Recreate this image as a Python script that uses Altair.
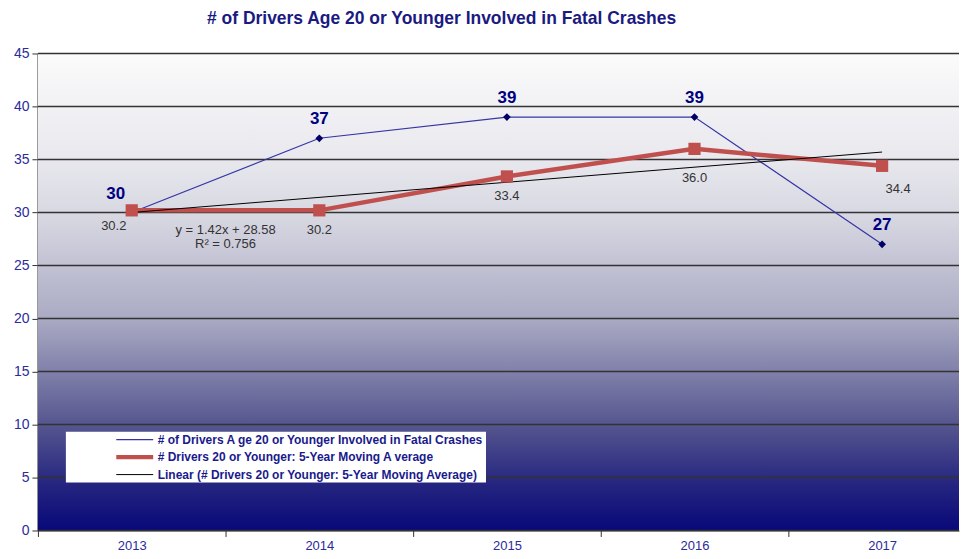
import altair as alt
import pandas as pd

# ---- data ----
years = [2013, 2014, 2015, 2016, 2017]
drivers = [30, 37, 39, 39, 27]
moving_avg = [30.2, 30.2, 33.4, 36.0, 34.4]
trend_years = [2013, 2017]
trend_vals = [30.0, 35.7]
y_ticks = [0, 5, 10, 15, 20, 25, 30, 35, 40, 45]
x_bounds = [2012.5, 2013.5, 2014.5, 2015.5, 2016.5]

s1 = "# of Drivers A ge 20 or Younger Involved in Fatal Crashes"
s2 = "# Drivers 20 or Younger: 5-Year Moving A verage"
s3 = "Linear (# Drivers 20 or Younger: 5-Year Moving Average)"
series = [s1, s2, s3]
colors = ["#3535a5", "#c0504d", "#000000"]
widths = [1.2, 4.5, 1.0]

title = "# of Drivers Age 20 or Younger Involved in Fatal Crashes"
equation = ["y = 1.42x + 28.58", "R² = 0.756"]

X_MIN, X_MAX = 2012.5, 2017.41
Y_MIN, Y_MAX = 0, 45
W, H = 923, 478
FONT = "Liberation Sans"

df_d = pd.DataFrame({"year": years, "value": drivers, "series": s1})
df_m = pd.DataFrame({"year": years, "value": moving_avg, "series": s2})
df_t = pd.DataFrame({"year": trend_years, "value": trend_vals, "series": s3})
df_lines = pd.concat([df_d, df_m, df_t], ignore_index=True)
df_m["label"] = [f"{v:.1f}" for v in moving_avg]
df_d["label"] = [str(v) for v in drivers]

xs = alt.Scale(domain=[X_MIN, X_MAX], nice=False, zero=False)
ys = alt.Scale(domain=[Y_MIN, Y_MAX], nice=False)

xax = alt.Axis(values=x_bounds, labelExpr="format(datum.value + 0.5, 'd')",
               labelOffset=94, labelFlush=False, labelOverlap=False,
               tickSize=6, tickColor="#333333", domainColor="#333333",
               labelColor="#2b2b9b", labelFontSize=13, labelPadding=3,
               labelFont=FONT, grid=False, title=None)
yax = alt.Axis(values=y_ticks, tickSize=6, tickColor="#333333",
               domainColor="#444444", domainWidth=2,
               labelColor="#2b2b9b", labelFontSize=14, labelPadding=3,
               labelFont=FONT, grid=False, title=None)

bg_df = pd.DataFrame({"x0": [X_MIN], "x1": [X_MAX], "y0": [Y_MIN], "y1": [Y_MAX]})
background = alt.Chart(bg_df).mark_rect(
    fill=alt.Gradient(
        gradient="linear", x1=0, x2=0, y1=0, y2=1,
        stops=[
            alt.GradientStop(color="#fbfbfb", offset=0),
            alt.GradientStop(color="#e8e8ee", offset=0.22),
            alt.GradientStop(color="#d6d6e1", offset=0.35),
            alt.GradientStop(color="#a9a9c3", offset=0.56),
            alt.GradientStop(color="#55558f", offset=0.78),
            alt.GradientStop(color="#262680", offset=0.9),
            alt.GradientStop(color="#08087a", offset=1),
        ],
    )
).encode(
    x=alt.X("x0:Q", scale=xs, axis=xax), x2="x1:Q",
    y=alt.Y("y0:Q", scale=ys, axis=yax), y2="y1:Q",
)

grid = alt.Chart(pd.DataFrame({"v": y_ticks})).mark_rule(
    color="#333333", strokeWidth=1.5
).encode(y=alt.Y("v:Q", scale=ys))

pad = "\u2003" * 4
lab_expr = f"datum.label + '{pad}'"
lines = alt.Chart(df_lines).mark_line().encode(
    x=alt.X("year:Q", scale=xs),
    y=alt.Y("value:Q", scale=ys),
    color=alt.Color("series:N", scale=alt.Scale(domain=series, range=colors),
                    sort=series, legend=alt.Legend(title=None, labelExpr=lab_expr)),
    strokeWidth=alt.StrokeWidth("series:N",
                                scale=alt.Scale(type="ordinal", domain=series, range=widths),
                                sort=series, legend=alt.Legend(title=None, labelExpr=lab_expr)),
    detail="series:N",
)

pts_d = alt.Chart(df_d).mark_point(
    shape="diamond", filled=True, color="#000066", size=60, opacity=1
).encode(x=alt.X("year:Q", scale=xs), y=alt.Y("value:Q", scale=ys))

pts_m = alt.Chart(df_m).mark_point(
    shape="square", filled=True, color="#c0504d", size=150, opacity=1
).encode(x=alt.X("year:Q", scale=xs), y=alt.Y("value:Q", scale=ys))

enc = dict(x=alt.X("year:Q", scale=xs), y=alt.Y("value:Q", scale=ys), text="label:N")
bold = dict(font=FONT, fontSize=17, fontWeight="bold", color="#000080")
reg = dict(font=FONT, fontSize=13, color="#333333")

lab_d_first = alt.Chart(df_d).transform_filter("datum.year == 2013").mark_text(
    dx=-16, dy=-19, **bold).encode(**enc)
lab_d_rest = alt.Chart(df_d).transform_filter("datum.year > 2013").mark_text(
    dy=-19, **bold).encode(**enc)

lab_m_first = alt.Chart(df_m).transform_filter("datum.year == 2013").mark_text(
    dx=-18, dy=16, **reg).encode(**enc)
lab_m_mid = alt.Chart(df_m).transform_filter("datum.year > 2013 && datum.year < 2016").mark_text(
    dy=20, **reg).encode(**enc)
lab_m_2016 = alt.Chart(df_m).transform_filter("datum.year == 2016").mark_text(
    dy=29, **reg).encode(**enc)
lab_m_last = alt.Chart(df_m).transform_filter("datum.year == 2017").mark_text(
    dx=16, dy=23, **reg).encode(**enc)

eq_df = pd.DataFrame({"x": [2013.5], "y": [28.3], "t": [equation]})
eq = alt.Chart(eq_df).mark_text(
    font=FONT, fontSize=13, color="#333333", lineHeight=14
).encode(x=alt.X("x:Q", scale=xs), y=alt.Y("y:Q", scale=ys), text="t")

chart = alt.layer(
    background, grid, lines, pts_d, pts_m,
    lab_d_first, lab_d_rest, lab_m_first, lab_m_mid, lab_m_2016, lab_m_last, eq
).properties(
    width=W, height=H,
    title=alt.TitleParams(title, anchor="start", dx=194, offset=19,
                          font=FONT, fontSize=17.5,
                          fontWeight="bold", color="#1a1a80"),
    padding={"left": 5, "top": 1, "right": 0, "bottom": 0},
).configure_view(stroke=None).configure_legend(
    orient="none", legendX=28, legendY=379, fillColor="white",
    padding=2, symbolType="M-1,0H8.25", symbolSize=64, symbolOffset=46,
    labelOffset=31, rowPadding=2,
    labelFont=FONT, labelFontSize=12, labelFontWeight="bold",
    labelColor="#1a1a8c", labelLimit=600,
)

chart.save("out.html", embed_options={"renderer": "svg", "actions": False})
